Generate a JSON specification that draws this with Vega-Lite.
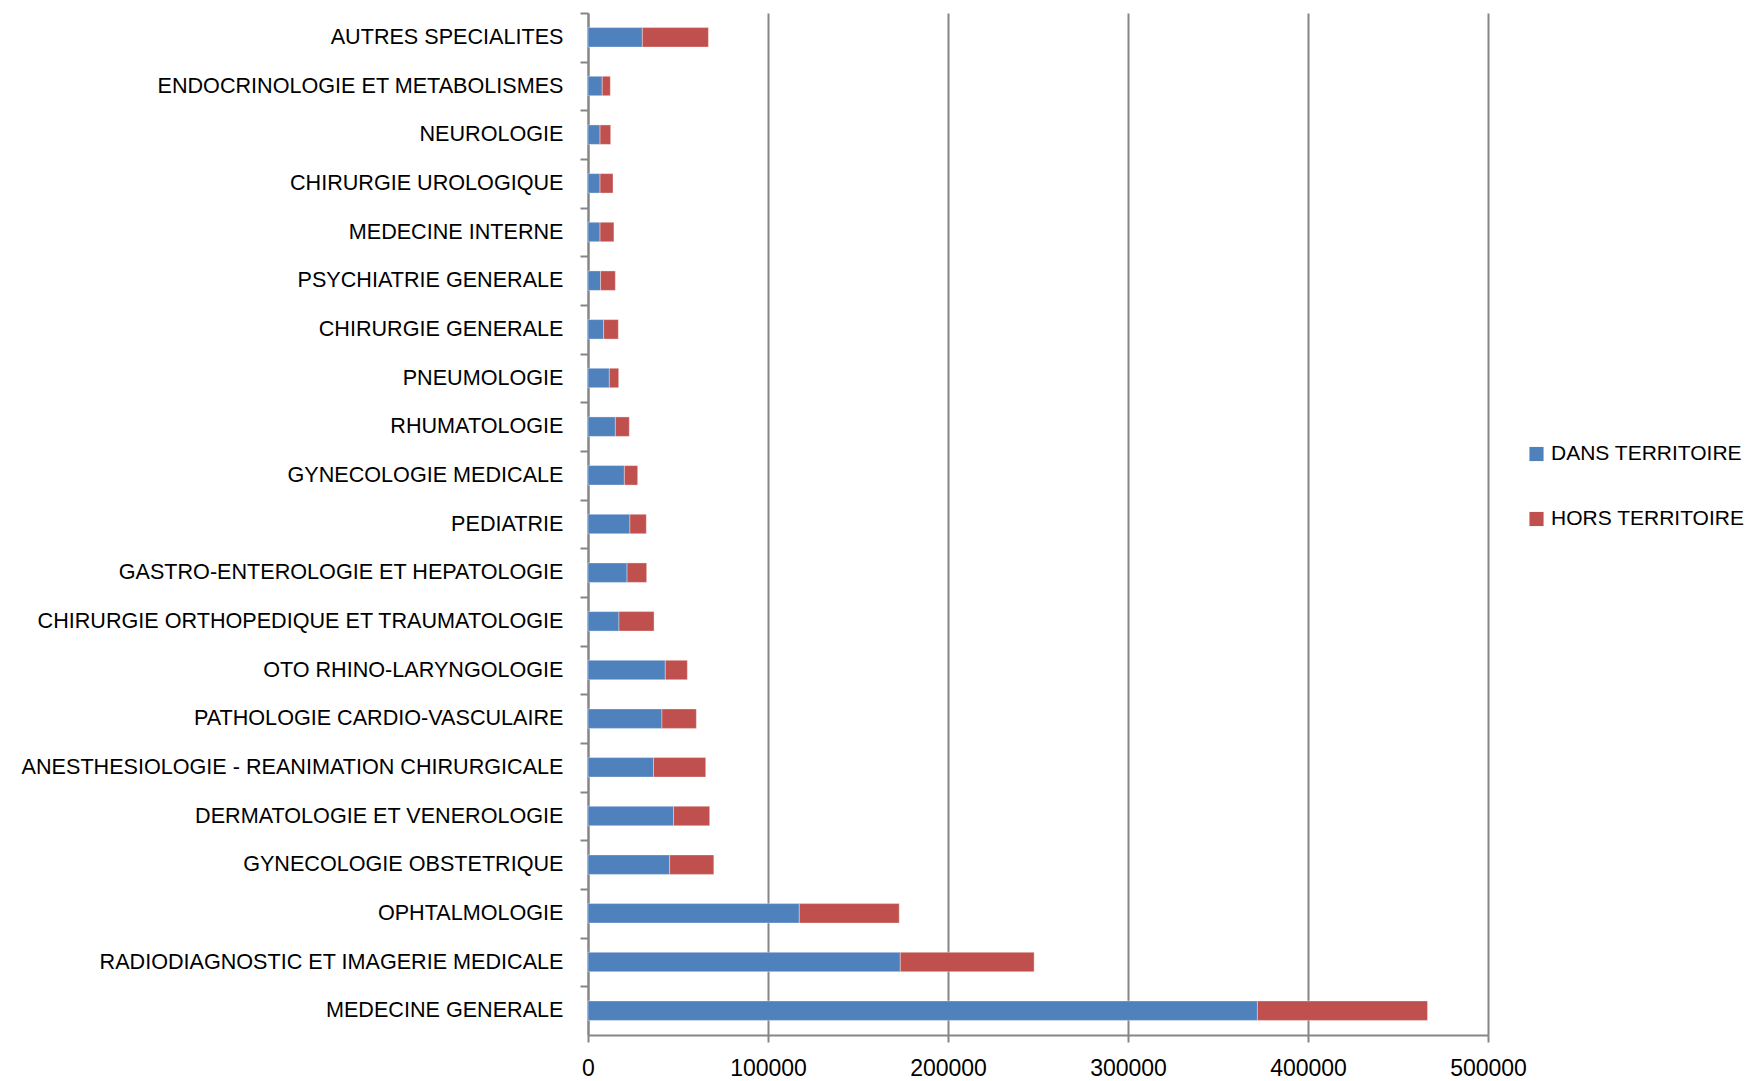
{
  "$schema": "https://vega.github.io/schema/vega-lite/v6.json",
  "autosize": {"type": "none"},
  "width": 900,
  "height": 1022,
  "padding": {"left": 588, "top": 13, "right": 258, "bottom": 46},
  "background": "white",
  "config": {
    "font": "Liberation Sans",
    "view": {"stroke": null}
  },
  "data": {
    "values": [
      {"specialite": "AUTRES SPECIALITES", "serie": "DANS TERRITOIRE", "valeur": 30200},
      {"specialite": "AUTRES SPECIALITES", "serie": "HORS TERRITOIRE", "valeur": 36700},
      {"specialite": "ENDOCRINOLOGIE ET METABOLISMES", "serie": "DANS TERRITOIRE", "valeur": 7900},
      {"specialite": "ENDOCRINOLOGIE ET METABOLISMES", "serie": "HORS TERRITOIRE", "valeur": 4500},
      {"specialite": "NEUROLOGIE", "serie": "DANS TERRITOIRE", "valeur": 6700},
      {"specialite": "NEUROLOGIE", "serie": "HORS TERRITOIRE", "valeur": 5900},
      {"specialite": "CHIRURGIE UROLOGIQUE", "serie": "DANS TERRITOIRE", "valeur": 6700},
      {"specialite": "CHIRURGIE UROLOGIQUE", "serie": "HORS TERRITOIRE", "valeur": 7200},
      {"specialite": "MEDECINE INTERNE", "serie": "DANS TERRITOIRE", "valeur": 6700},
      {"specialite": "MEDECINE INTERNE", "serie": "HORS TERRITOIRE", "valeur": 7700},
      {"specialite": "PSYCHIATRIE GENERALE", "serie": "DANS TERRITOIRE", "valeur": 7000},
      {"specialite": "PSYCHIATRIE GENERALE", "serie": "HORS TERRITOIRE", "valeur": 8200},
      {"specialite": "CHIRURGIE GENERALE", "serie": "DANS TERRITOIRE", "valeur": 8700},
      {"specialite": "CHIRURGIE GENERALE", "serie": "HORS TERRITOIRE", "valeur": 8150},
      {"specialite": "PNEUMOLOGIE", "serie": "DANS TERRITOIRE", "valeur": 11850},
      {"specialite": "PNEUMOLOGIE", "serie": "HORS TERRITOIRE", "valeur": 5200},
      {"specialite": "RHUMATOLOGIE", "serie": "DANS TERRITOIRE", "valeur": 15200},
      {"specialite": "RHUMATOLOGIE", "serie": "HORS TERRITOIRE", "valeur": 7750},
      {"specialite": "GYNECOLOGIE MEDICALE", "serie": "DANS TERRITOIRE", "valeur": 20200},
      {"specialite": "GYNECOLOGIE MEDICALE", "serie": "HORS TERRITOIRE", "valeur": 7400},
      {"specialite": "PEDIATRIE", "serie": "DANS TERRITOIRE", "valeur": 23300},
      {"specialite": "PEDIATRIE", "serie": "HORS TERRITOIRE", "valeur": 9100},
      {"specialite": "GASTRO-ENTEROLOGIE ET HEPATOLOGIE", "serie": "DANS TERRITOIRE", "valeur": 21700},
      {"specialite": "GASTRO-ENTEROLOGIE ET HEPATOLOGIE", "serie": "HORS TERRITOIRE", "valeur": 10900},
      {"specialite": "CHIRURGIE ORTHOPEDIQUE ET TRAUMATOLOGIE", "serie": "DANS TERRITOIRE", "valeur": 17200},
      {"specialite": "CHIRURGIE ORTHOPEDIQUE ET TRAUMATOLOGIE", "serie": "HORS TERRITOIRE", "valeur": 19500},
      {"specialite": "OTO RHINO-LARYNGOLOGIE", "serie": "DANS TERRITOIRE", "valeur": 42950},
      {"specialite": "OTO RHINO-LARYNGOLOGIE", "serie": "HORS TERRITOIRE", "valeur": 12250},
      {"specialite": "PATHOLOGIE CARDIO-VASCULAIRE", "serie": "DANS TERRITOIRE", "valeur": 41100},
      {"specialite": "PATHOLOGIE CARDIO-VASCULAIRE", "serie": "HORS TERRITOIRE", "valeur": 19100},
      {"specialite": "ANESTHESIOLOGIE - REANIMATION CHIRURGICALE", "serie": "DANS TERRITOIRE", "valeur": 36400},
      {"specialite": "ANESTHESIOLOGIE - REANIMATION CHIRURGICALE", "serie": "HORS TERRITOIRE", "valeur": 29000},
      {"specialite": "DERMATOLOGIE ET VENEROLOGIE", "serie": "DANS TERRITOIRE", "valeur": 47550},
      {"specialite": "DERMATOLOGIE ET VENEROLOGIE", "serie": "HORS TERRITOIRE", "valeur": 20050},
      {"specialite": "GYNECOLOGIE OBSTETRIQUE", "serie": "DANS TERRITOIRE", "valeur": 45350},
      {"specialite": "GYNECOLOGIE OBSTETRIQUE", "serie": "HORS TERRITOIRE", "valeur": 24550},
      {"specialite": "OPHTALMOLOGIE", "serie": "DANS TERRITOIRE", "valeur": 117400},
      {"specialite": "OPHTALMOLOGIE", "serie": "HORS TERRITOIRE", "valeur": 55500},
      {"specialite": "RADIODIAGNOSTIC ET IMAGERIE MEDICALE", "serie": "DANS TERRITOIRE", "valeur": 173500},
      {"specialite": "RADIODIAGNOSTIC ET IMAGERIE MEDICALE", "serie": "HORS TERRITOIRE", "valeur": 74350},
      {"specialite": "MEDECINE GENERALE", "serie": "DANS TERRITOIRE", "valeur": 371900},
      {"specialite": "MEDECINE GENERALE", "serie": "HORS TERRITOIRE", "valeur": 94500}
    ]
  },
  "mark": {"type": "bar", "stroke": "white", "strokeWidth": 0.6, "strokeOpacity": 0.6},
  "encoding": {
    "y": {
      "field": "specialite",
      "type": "nominal",
      "sort": [
        "AUTRES SPECIALITES",
        "ENDOCRINOLOGIE ET METABOLISMES",
        "NEUROLOGIE",
        "CHIRURGIE UROLOGIQUE",
        "MEDECINE INTERNE",
        "PSYCHIATRIE GENERALE",
        "CHIRURGIE GENERALE",
        "PNEUMOLOGIE",
        "RHUMATOLOGIE",
        "GYNECOLOGIE MEDICALE",
        "PEDIATRIE",
        "GASTRO-ENTEROLOGIE ET HEPATOLOGIE",
        "CHIRURGIE ORTHOPEDIQUE ET TRAUMATOLOGIE",
        "OTO RHINO-LARYNGOLOGIE",
        "PATHOLOGIE CARDIO-VASCULAIRE",
        "ANESTHESIOLOGIE - REANIMATION CHIRURGICALE",
        "DERMATOLOGIE ET VENEROLOGIE",
        "GYNECOLOGIE OBSTETRIQUE",
        "OPHTALMOLOGIE",
        "RADIODIAGNOSTIC ET IMAGERIE MEDICALE",
        "MEDECINE GENERALE"
      ],
      "scale": {"paddingInner": 0.6, "paddingOuter": 0.3},
      "axis": {
        "title": null,
        "grid": false,
        "domainColor": "#868686",
        "domainWidth": 2,
        "tickColor": "#868686",
        "tickWidth": 2,
        "tickSize": 8,
        "bandPosition": 0,
        "tickOffset": -14.6,
        "labelOffset": 14.6,
        "labelPadding": 17,
        "labelFont": "Liberation Sans",
        "labelFontSize": 21.6,
        "labelColor": "black",
        "labelLimit": 700
      }
    },
    "x": {
      "field": "valeur",
      "type": "quantitative",
      "stack": "zero",
      "scale": {"domain": [0, 500000], "nice": false},
      "axis": {
        "title": null,
        "values": [0, 100000, 200000, 300000, 400000, 500000],
        "format": "d",
        "grid": true,
        "gridColor": "#868686",
        "gridWidth": 2,
        "domainColor": "#868686",
        "domainWidth": 2,
        "tickColor": "#868686",
        "tickWidth": 2,
        "tickSize": 7,
        "labelPadding": 15,
        "labelFont": "Liberation Sans",
        "labelFontSize": 23,
        "labelColor": "black",
        "labelFlush": false
      }
    },
    "color": {
      "field": "serie",
      "type": "nominal",
      "scale": {
        "domain": ["DANS TERRITOIRE", "HORS TERRITOIRE"],
        "range": ["#4F81BD", "#C0504D"]
      },
      "legend": {
        "title": null,
        "orient": "none",
        "legendX": 938,
        "legendY": 430.5,
        "symbolType": "square",
        "symbolSize": 200,
        "symbolStrokeWidth": 0,
        "labelFont": "Liberation Sans",
        "labelFontSize": 21,
        "labelColor": "black",
        "labelLimit": 400,
        "labelOffset": 4,
        "rowPadding": 43
      }
    },
    "order": {"field": "serie", "sort": "ascending"}
  }
}
